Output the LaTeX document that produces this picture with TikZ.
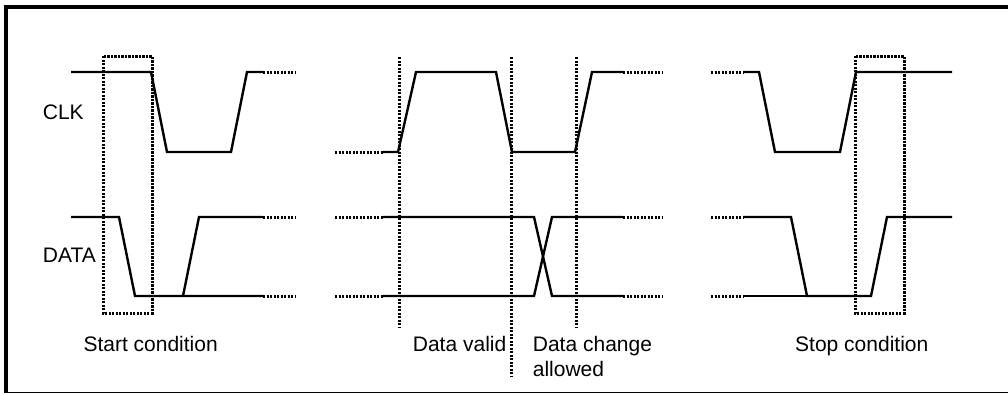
\documentclass[tikz,border=0pt]{standalone}
\usepackage{fontspec}
\setmainfont{Liberation Sans}
\begin{document}
\begin{tikzpicture}[x=1pt,y=-1pt,
  sig/.style={line width=2.4pt, line join=miter},
  dotl/.style={line width=3pt, dash pattern=on 2.2pt off 1.3pt},
  lbl/.style={anchor=base west, inner sep=0pt, font=\fontsize{21}{25}\selectfont}]
\useasboundingbox (0,0) rectangle (1008,394);
% frame
\draw[line width=4pt, line join=miter] (1008,6.7) -- (6,6.7) -- (6,393);
\draw[line width=1.4pt] (4,392.6) -- (1008,392.6);

% ---- start condition ----
\draw[sig] (71,72) -- (151,72) -- (167,152) -- (231,152) -- (247,72) -- (263,72);
\draw[dotl] (263,72) -- (296,72);
\draw[sig] (71,217) -- (119,217) -- (135,296) -- (263,296);
\draw[sig] (183,296) -- (199,217) -- (263,217);
\draw[dotl] (263,217) -- (296,217);
\draw[dotl] (263,296) -- (296,296);
\draw[dotl] (103,56) rectangle (152,313);

% ---- data valid ----
\draw[dotl] (335,152) -- (383,152);
\draw[sig] (383,152) -- (398,152) -- (416,72) -- (496,72) -- (512,152) -- (575,152) -- (592,72) -- (623,72);
\draw[dotl] (623,72) -- (663,72);
\draw[dotl] (335,217) -- (383,217);
\draw[dotl] (335,296) -- (383,296);
\draw[sig] (383,217) -- (534,217) -- (552,296) -- (623,296);
\draw[sig] (383,296) -- (534,296) -- (552,217) -- (623,217);
\draw[dotl] (623,217) -- (663,217);
\draw[dotl] (623,296) -- (663,296);
\draw[dotl] (399,57) -- (399,328);
\draw[dotl] (511,57) -- (511,377);
\draw[dotl] (576,57) -- (576,328);

% ---- stop condition ----
\draw[dotl] (711,72) -- (743,72);
\draw[sig] (743,72) -- (759,72) -- (775,152) -- (840,152) -- (856,72) -- (952,72);
\draw[dotl] (711,217) -- (743,217);
\draw[dotl] (711,296) -- (743,296);
\draw[sig] (743,217) -- (791,217) -- (807,296) -- (871,296) -- (887,217) -- (952,217);
\draw[sig] (743,296) -- (807,296);
\draw[dotl] (855,56) rectangle (904,313);

% labels
\node[lbl] (clk) at (42.7,119) {CLK};
\node[lbl] (data) at (42.7,262.7) {DATA};
\node[lbl] (start) at (83.3,351.7) {Start condition};
\node[lbl] (valid) at (412.7,351.7) {Data valid};
\node[lbl] (change) at (532.7,351.7) {Data change};
\node[lbl] (allowed) at (532.7,376.5) {allowed};
\node[lbl] (stop) at (795,351.7) {Stop condition};
\end{tikzpicture}
\end{document}
